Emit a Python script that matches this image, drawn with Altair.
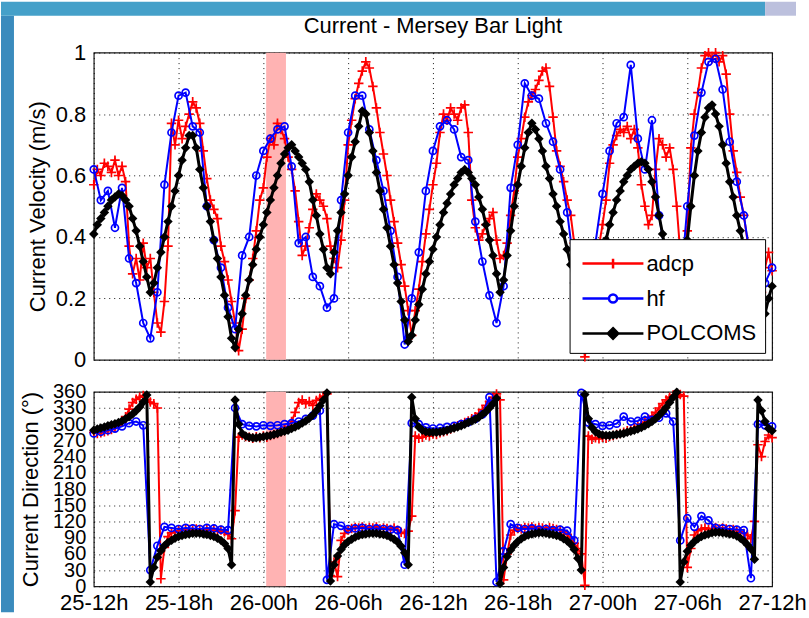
import altair as alt
import pandas as pd

# ---------------------------------------------------------------- data
SERIES = ["adcp", "hf", "POLCOMS"]
SERIES_COLORS = ["#ff0000", "#0000ff", "#000000"]
TICK_LABELS = ["25-12h", "25-18h", "26-00h", "26-06h", "26-12h",
               "26-18h", "27-00h", "27-06h", "27-12h"]
TICK_STEP_H = 6
SPAN_H = 48

ADCP_STEP_H = 0.25
HF_STEP_H = 0.5
POLCOMS_STEP_H = 0.25

SHADE_START_H = 12.2
SHADE_END_H = 13.6

# current speed (m/s), one row per hour
adcp_speed = [
    .57, .62, .60, .64,  .63, .61, .65, .60,  .63, .58, .37, .28,  .33, .26, .38, .30,
    .33, .22, .12, .09,  .19, .37, .77, .70,  .78, .72, .76, .80,  .84, .82, .77, .68,
    .59, .52, .49, .46,  .37, .32, .26, .19,  .12, .03, .10, .20,  .26, .33, .42, .52,
    .56, .66, .72, .70,  .77, .75, .72, .66,  .62, .55, .45, .34,  .37, .43, .49, .54,
    .52, .50, .46, .37,  .33, .30, .39, .52,  .70, .78, .85, .90,  .94, .97, .95, .89,
    .82, .74, .67, .60,  .52, .45, .38, .31,  .24, .16, .08, .16,  .23, .32, .41, .49,
    .57, .64, .74, .80,  .78, .82, .80, .78,  .82, .83, .74, .52,  .43, .39, .41, .44,
    .46, .48, .39, .33,  .34, .38, .47, .55,  .66, .72, .79, .84,  .86, .88, .91, .94,
    .95, .89, .79, .68,  .63, .58, .52, .47,  .38, .25, .12, .01,  .10, .18, .27, .37,
    .44, .52, .64, .70,  .73, .75, .74, .76,  .72, .75, .69, .57,  .50, .44, .47, .62,
    .72, .70, .66, .69,  .62, .50, .35, .30,  .42, .69, .80, .87,  .95, .99, 1.0, .98,
    1.0, .97, .99, .93,  .80, .68, .61, .53,  .47, .39, .30, .20,  .12, .22, .30, .35,
    .29,
]
hf_speed = [
    .62, .52,  .55, .43,  .56, .33,  .25, .12,  .07, .22,  .57, .74,  .86, .87,  .76, .74,
    .50, .39,  .30, .17,  .10, .34,  .40, .60,  .68, .72,  .75, .76,  .63, .38,  .40, .27,
    .24, .17,  .20, .52,  .74, .86,  .86, .75,  .65, .55,  .42, .27,  .05, .20,  .35, .55,
    .68, .76,  .78, .75,  .66, .65,  .45, .32,  .21, .12,  .24, .56,  .70, .90,  .86, .85,
    .77, .71,  .62, .48,  .30, .15,  .20, .38,  .54, .68,  .77, .79,  .96, .72,  .62, .78,
    .47, .33,  .20, .22,  .50, .73,  .87, .97,  .98, .88,  .71, .58,  .47, .32,  .18, .25,
    .30,
]
polcoms_speed = [
    .41, .44, .46, .48,  .50, .52, .53, .54,  .535, .52, .50, .46,  .42, .37, .32, .27,
    .22, .25, .30, .35,  .40, .45, .50, .55,  .60, .65, .69, .73,  .73, .69, .62, .56,
    .50, .45, .39, .33,  .27, .21, .14, .07,  .04, .10, .15, .21,  .26, .31, .36, .40,
    .44, .48, .52, .56,  .60, .64, .67, .69,  .70, .68, .66, .64,  .62, .58, .52, .47,
    .41, .36, .30, .28,  .35, .42, .48, .54,  .60, .66, .71, .76,  .81, .80, .74, .68,
    .61, .55, .49, .43,  .37, .31, .25, .19,  .13, .06, .08, .13,  .18, .23, .28, .32,
    .36, .40, .44, .48,  .51, .54, .57, .59,  .61, .62, .61, .59,  .57, .53, .49, .44,
    .39, .34, .28, .22,  .26, .34, .42, .50,  .57, .63, .69, .74,  .77, .75, .72, .68,
    .63, .59, .54, .50,  .45, .41, .36, .31,  .25, .18, .11, .05,  .10, .16, .22, .28,
    .34, .39, .44, .48,  .52, .55, .58, .60,  .62, .63, .64, .645, .64, .62, .58, .53,
    .47, .41, .34, .26,  .17, .07, .12, .28,  .39, .50, .60, .68,  .74, .79, .82, .83,
    .80, .76, .70, .64,  .58, .53, .47, .42,  .37, .30, .21, .11,  .05, .09, .15, .20,
    .24,
]

# current direction (degrees), one row per hour
adcp_dir = [
    285, 283, 284, 286,  288, 290, 294, 298,  304, 314, 328, 340,  346, 350, 353, 346,
    341, 338, 330, 14,   72, 92, 99, 101,    103, 104, 106, 105,  104, 106, 105, 104,
    106, 103, 105, 102,  104, 101, 96, 88,   140, 276, 280, 277,  276, 274, 277, 275,
    278, 276, 279, 281,  283, 286, 290, 296,  305, 322, 340, 345,  338, 342, 335, 344,
    348, 352, 356, 20,   45, 18, 85, 98,     104, 107, 109, 108,  110, 107, 109, 108,
    110, 106, 108, 107,  105, 108, 104, 100,  98, 102, 130, 278,  274, 276, 280, 278,
    282, 281, 284, 286,  288, 291, 294, 297,  300, 303, 306, 310,  314, 320, 327, 335,
    342, 350, 356, 345,  12, 60, 95, 104,    107, 106, 109, 108,  110, 107, 109, 108,
    106, 109, 107, 105,  104, 101, 96, 88,   80, 70, 60, 2,      278, 272, 275, 273,
    276, 274, 277, 279,  281, 283, 285, 288,  290, 293, 296, 300,  304, 309, 315, 322,
    330, 338, 345, 350,  354, 350, 355, 352,  35, 70, 95, 103,    106, 108, 105, 107,
    109, 106, 108, 106,  104, 105, 103, 101,  98, 95, 88, 120,    262, 240, 268, 280,
    275,
]
hf_dir = [
    283, 286,  289, 292,  296, 302,  305, 298,  30, 75,    110, 108,  106, 108,  107, 106,
    108, 107,  105, 104,  330, 300,  297, 296,  298, 297,  298, 300,  302, 305,  310, 316,
    325, 12,   115, 112,  106, 107,  108, 106,  107, 106,  105, 104,  40, 302,   300, 294,
    292, 293,  295, 297,  300, 304,  310, 318,  350, 8,    65, 115,   108, 106,  107, 105,
    106, 104,  105, 103,  85, 358,   303, 300,  297, 298,  301, 314,  305, 306,  314, 308,
    312, 320,  305, 85,   126, 110,  130, 122,  108, 107,  106, 105,  104, 15,   300, 298,
    296,
]
polcoms_dir = [
    289, 291, 293, 295,  297, 299, 301, 303,  306, 310, 314, 319,  325, 332, 341, 354,
    8, 35, 54, 66,       75, 81, 85, 89,      92, 94, 96, 97,      98, 98, 98, 97,
    96, 94, 92, 89,      85, 79, 70, 40,      345, 300, 283, 278,  276, 275, 275, 276,
    277, 278, 279, 281,  283, 285, 287, 289,  292, 295, 298, 302,  306, 311, 317, 325,
    334, 345, 358, 10,   40, 56, 68, 77,      83, 87, 91, 94,      96, 97, 98, 98,
    98, 97, 96, 94,      91, 87, 82, 74,      62, 40, 350, 310,    295, 289, 286, 285,
    285, 285, 286, 287,  289, 291, 293, 295,  297, 300, 303, 306,  309, 313, 318, 323,
    330, 338, 348, 5,    35, 55, 67, 76,      83, 88, 92, 95,      97, 98, 99, 99,
    98, 97, 96, 94,      92, 88, 84, 78,      68, 52, 30, 355,     310, 294, 286, 282,
    280, 279, 279, 280,  281, 282, 283, 285,  287, 289, 291, 294,  297, 301, 305, 310,
    316, 323, 331, 340,  350, 359, 8, 45,     65, 76, 83, 88,      92, 95, 97, 99,
    100, 100, 99, 98,    97, 96, 93, 89,      84, 77, 69, 50,      345, 325, 305, 292,
    288,
]


def series_frame(values, step, name):
    return pd.DataFrame({
        "hour": [i * step for i in range(len(values))],
        "value": values,
        "series": name,
    })


speed_frames = {
    "adcp": series_frame(adcp_speed, ADCP_STEP_H, "adcp"),
    "hf": series_frame(hf_speed, HF_STEP_H, "hf"),
    "POLCOMS": series_frame(polcoms_speed, POLCOMS_STEP_H, "POLCOMS"),
}
dir_frames = {
    "adcp": series_frame(adcp_dir, ADCP_STEP_H, "adcp"),
    "hf": series_frame(hf_dir, HF_STEP_H, "hf"),
    "POLCOMS": series_frame(polcoms_dir, POLCOMS_STEP_H, "POLCOMS"),
}

# ---------------------------------------------------------------- styling
FONT = "Liberation Sans"
LINE_WIDTH = {"adcp": 2, "hf": 2, "POLCOMS": 3}
MARKERS = {
    "adcp": dict(shape="M-1,0H1M0,-1V1", size=90, filled=False, strokeWidth=1.7),
    "hf": dict(shape="circle", size=50, filled=False, strokeWidth=1.7),
    "POLCOMS": dict(shape="diamond", size=90, filled=True, strokeWidth=0.5),
}
# legend glyphs: a line segment with the series marker in its middle
LEGEND_GLYPHS = [
    "M-0.77,0H3.3M1.27,-0.33V0.33",
    "M-0.77,0H1.0M1.54,0H3.3M1.54,0A0.27,0.27 0 1,0 1.0,0A0.27,0.27 0 1,0 1.54,0",
    "M-0.77,0H3.3M1.27,-0.35L1.62,0L1.27,0.35L0.92,0ZM1.27,-0.17L1.44,0L1.27,0.17L1.1,0Z",
]

x_ticks = [i * TICK_STEP_H for i in range(len(TICK_LABELS))]
label_expr = ("[" + ", ".join(f"'{s}'" for s in TICK_LABELS) + "]"
              + f"[round(datum.value / {TICK_STEP_H})]")


def x_enc(field, show_labels):
    return alt.X(
        f"{field}:Q", title=None,
        scale=alt.Scale(domain=[0, SPAN_H], nice=False, zero=False),
        axis=alt.Axis(values=x_ticks, labels=show_labels, labelExpr=label_expr,
                      labelFlush=False, labelOverlap=False, grid=True,
                      labelPadding=6, labelFontSize=22),
    )


def y_enc(field, spec):
    return alt.Y(
        f"{field}:Q", title=spec["title"],
        scale=alt.Scale(domain=spec["domain"], nice=False, zero=False),
        axis=alt.Axis(values=spec["ticks"], format=spec["fmt"], grid=True, labelOverlap=False,
                      labelFontSize=spec["label_size"], labelPadding=8,
                      titlePadding=spec["title_pad"]),
    )


def frame_rect(x0, x1, y0, y1, color):
    # slide background strips around the figure (pixel offsets from the plot origin)
    return alt.Chart(pd.DataFrame({"k": [0]})).mark_rect(color=color).encode(
        x=alt.value(x0), x2=alt.value(x1), y=alt.value(y0), y2=alt.value(y1))


def panel(frames, spec, show_x_labels, with_legend, extras):
    band = pd.DataFrame({"start": [SHADE_START_H], "end": [SHADE_END_H],
                         "lo": [spec["domain"][0]], "hi": [spec["domain"][1]]})
    layers = [
        alt.Chart(band).mark_rect(color="#ffb3b3").encode(
            x=x_enc("start", show_x_labels), x2="end:Q",
            y=y_enc("lo", spec), y2="hi:Q"),
    ]
    for name, color in zip(SERIES, SERIES_COLORS):
        df = frames[name]
        layers.append(alt.Chart(df).mark_line(color=color, strokeWidth=LINE_WIDTH[name]).encode(
            x=x_enc("hour", show_x_labels), y=y_enc("value", spec)))
        layers.append(alt.Chart(df).mark_point(color=color, opacity=1, **MARKERS[name]).encode(
            x=x_enc("hour", show_x_labels), y=y_enc("value", spec)))
    if with_legend:
        leg = alt.Legend(orient="none", legendX=477, legendY=187, title=None,
                         fillColor="white", strokeColor="black", padding=8,
                         labelFont=FONT, labelFontSize=22, labelColor="black",
                         labelOffset=36, labelLimit=300, rowPadding=7,
                         symbolSize=900, symbolStrokeWidth=2.5, symbolOpacity=1)
        key = pd.DataFrame({"hour": [float("nan")] * 3, "value": [float("nan")] * 3,
                            "series": SERIES})
        layers.append(alt.Chart(key).mark_point(
            filled=False, size=900, strokeWidth=2.5, opacity=1, invalid="filter").encode(
            x=x_enc("hour", show_x_labels), y=y_enc("value", spec),
            color=alt.Color("series:N", scale=alt.Scale(domain=SERIES, range=SERIES_COLORS),
                            legend=leg),
            shape=alt.Shape("series:N", scale=alt.Scale(domain=SERIES, range=LEGEND_GLYPHS),
                            legend=leg),
        ))
    layers.extend(extras)
    return alt.layer(*layers).properties(width=680, height=spec["height"])


speed_spec = dict(title="Current Velocity (m/s)", domain=[0, 1], fmt="~g",
                  ticks=[0, 0.2, 0.4, 0.6, 0.8, 1], label_size=22, title_pad=6, height=308)
dir_spec = dict(title="Current Direction (°)", domain=[0, 360], fmt="d",
                ticks=[0, 30, 60, 90, 120, 150, 180, 210, 240, 270, 300, 330, 360],
                label_size=20, title_pad=10, height=195)

top = panel(speed_frames, speed_spec, False, True, []).properties(
    title=alt.TitleParams("Current - Mersey Bar Light", baseline="alphabetic", offset=-13))

# strips of the slide background, placed relative to the lower panel's origin
strips = [
    frame_rect(-93, -80, -377, 221, "#3a8bbd"),
    frame_rect(-93, 673, -391, -377, "#45a0c9"),
    frame_rect(673, 704, -391, -377, "#bcc0dd"),
    frame_rect(704, 716, -391, -377, "#ffffff"),
]
bottom = panel(dir_frames, dir_spec, True, False, strips)

chart = (
    alt.vconcat(top, bottom, spacing=32, bounds="flush")
    .resolve_scale(color="independent", shape="independent")
    .properties(padding=0, background="white")
    .configure_axis(labelFont=FONT, labelColor="black", titleFont=FONT, titleFontSize=22,
                    titleFontWeight="normal", titleColor="black", gridColor="black",
                    gridDash=[1, 4], gridWidth=1, gridOpacity=0.9, ticks=False, tickSize=0,
                    domain=False)
    .configure_view(stroke="#1a1a1a", strokeWidth=1.2)
    .configure_title(font=FONT, fontSize=22, fontWeight="normal", color="black",
                     anchor="middle")
)

chart.save("out.html", embed_options={"renderer": "svg", "actions": False})
